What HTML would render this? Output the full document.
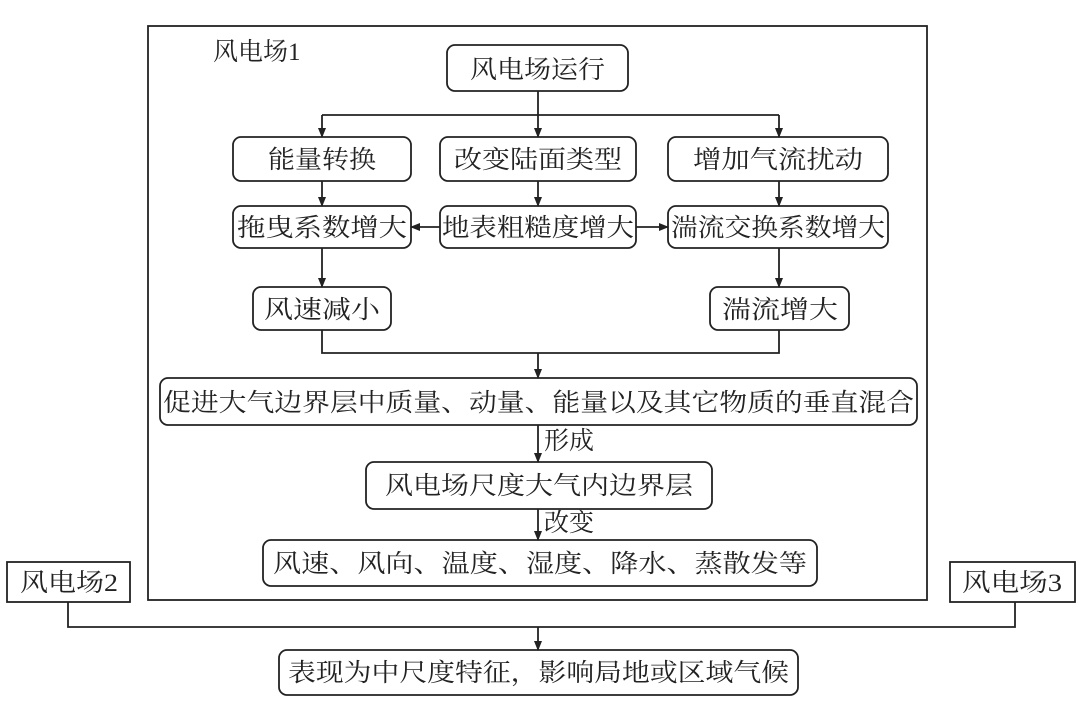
<!DOCTYPE html>
<html><head><meta charset="utf-8"><style>
html,body{margin:0;padding:0;background:#fff;}
svg{display:block}
text{font-family:"Liberation Serif","Noto Serif CJK SC",serif;font-size:25px;fill:#222;}
</style></head><body>
<svg width="1080" height="712" viewBox="0 0 1080 712" xmlns="http://www.w3.org/2000/svg">
<defs><marker id="a" markerWidth="10" markerHeight="10" refX="9" refY="5" orient="auto" markerUnits="userSpaceOnUse"><path d="M0,1 L10,5 L0,9 Z" fill="#222"/></marker></defs>
<g fill="none" stroke="#222" stroke-width="1.8">
<rect x="148" y="26" width="779" height="574"/>
<rect x="447" y="45" width="181" height="46" rx="8"/>
<rect x="233" y="137" width="178" height="44" rx="8"/>
<rect x="440" y="137" width="196" height="44" rx="8"/>
<rect x="668" y="137" width="220" height="44" rx="8"/>
<rect x="233" y="206" width="178" height="42" rx="8"/>
<rect x="440" y="206" width="196" height="42" rx="8"/>
<rect x="668" y="206" width="220" height="42" rx="8"/>
<rect x="253" y="287" width="138" height="43" rx="8"/>
<rect x="710" y="287" width="139" height="43" rx="8"/>
<rect x="160" y="378" width="757" height="47" rx="8"/>
<rect x="366" y="462" width="346" height="47" rx="8"/>
<rect x="263" y="540" width="554" height="46" rx="8"/>
<rect x="7" y="562" width="123" height="40"/>
<rect x="950" y="562" width="125" height="40"/>
<rect x="279" y="650" width="519" height="45" rx="8"/>
<path d="M538,91 V115 M322,115 H779"/>
<path d="M322,115 V137" marker-end="url(#a)"/>
<path d="M538,115 V137" marker-end="url(#a)"/>
<path d="M779,115 V137" marker-end="url(#a)"/>
<path d="M322,181 V206" marker-end="url(#a)"/>
<path d="M538,181 V206" marker-end="url(#a)"/>
<path d="M779,181 V206" marker-end="url(#a)"/>
<path d="M440,227 H411" marker-end="url(#a)"/>
<path d="M636,227 H668" marker-end="url(#a)"/>
<path d="M322,248 V287" marker-end="url(#a)"/>
<path d="M779,248 V287" marker-end="url(#a)"/>
<path d="M322,330 V353 H779 V330"/>
<path d="M538,353 V378" marker-end="url(#a)"/>
<path d="M538,425 V462" marker-end="url(#a)"/>
<path d="M538,509 V540" marker-end="url(#a)"/>
<path d="M68,602 V627 H1015 V602"/>
<path d="M538,627 V650" marker-end="url(#a)"/>
</g>
<text x="213" y="60">风电场1</text>
<text x="470" y="78" textLength="135" lengthAdjust="spacingAndGlyphs">风电场运行</text>
<text x="268" y="168" textLength="108" lengthAdjust="spacingAndGlyphs">能量转换</text>
<text x="454" y="168" textLength="168" lengthAdjust="spacingAndGlyphs">改变陆面类型</text>
<text x="693" y="168" textLength="170" lengthAdjust="spacingAndGlyphs">增加气流扰动</text>
<text x="237" y="236" textLength="170" lengthAdjust="spacingAndGlyphs">拖曳系数增大</text>
<text x="442" y="236" textLength="192" lengthAdjust="spacingAndGlyphs">地表粗糙度增大</text>
<text x="671" y="236" textLength="214" lengthAdjust="spacingAndGlyphs">湍流交换系数增大</text>
<text x="264" y="318" textLength="116" lengthAdjust="spacingAndGlyphs">风速减小</text>
<text x="722" y="318" textLength="116" lengthAdjust="spacingAndGlyphs">湍流增大</text>
<text x="163" y="411" textLength="751" lengthAdjust="spacingAndGlyphs">促进大气边界层中质量、动量、能量以及其它物质的垂直混合</text>
<text x="544" y="449">形成</text>
<text x="385" y="494" textLength="308" lengthAdjust="spacingAndGlyphs">风电场尺度大气内边界层</text>
<text x="544" y="531">改变</text>
<text x="273" y="572" textLength="534" lengthAdjust="spacingAndGlyphs">风速、风向、温度、湿度、降水、蒸散发等</text>
<text x="20" y="591" textLength="98" lengthAdjust="spacingAndGlyphs">风电场2</text>
<text x="962" y="591" textLength="100" lengthAdjust="spacingAndGlyphs">风电场3</text>
<text x="288" y="681" textLength="501" lengthAdjust="spacingAndGlyphs">表现为中尺度特征，影响局地或区域气候</text>
</svg>
</body></html>
